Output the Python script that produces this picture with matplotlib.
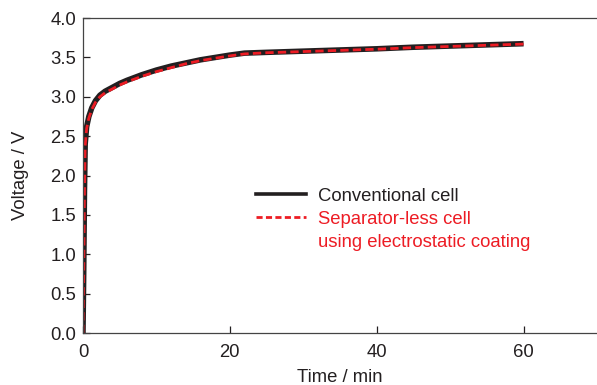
import matplotlib
matplotlib.use("Agg")
import matplotlib.pyplot as plt
from matplotlib.lines import Line2D

plt.rcParams['font.family'] = ['Liberation Sans', 'DejaVu Sans']

# === DATA ===
time_min = [0, 0.1, 0.2, 0.3, 0.5, 0.8, 1.2, 1.7, 2.3, 3, 4, 5, 6, 8, 10, 12, 14, 16,
            18, 20, 22, 25, 30, 35, 40, 45, 50, 55, 60]
conventional_v = [0, 0.8, 1.8, 2.4, 2.62, 2.75, 2.86, 2.95, 3.02, 3.07, 3.12, 3.17, 3.21,
                  3.28, 3.34, 3.39, 3.43, 3.47, 3.50, 3.53, 3.555, 3.565, 3.58, 3.595,
                  3.61, 3.63, 3.645, 3.66, 3.675]
separatorless_v = [0, 0.78, 1.78, 2.38, 2.60, 2.73, 2.84, 2.93, 3.00, 3.05, 3.10, 3.15, 3.19,
                   3.26, 3.32, 3.37, 3.42, 3.46, 3.49, 3.52, 3.545, 3.56, 3.575, 3.59,
                   3.605, 3.625, 3.64, 3.655, 3.67]

x_ticks = [0, 20, 40, 60]
y_ticks = [0.0, 0.5, 1.0, 1.5, 2.0, 2.5, 3.0, 3.5, 4.0]

RED = "#ed1c24"
DARK = "#231f20"
FS = 13.3

fig = plt.figure(figsize=(5.97, 3.85), dpi=100)
ax = fig.add_axes([0.139, 0.135, 0.861, 0.818])

ax.plot(time_min, conventional_v, color=DARK, lw=4.0, solid_capstyle="butt")
ax.plot(time_min, separatorless_v, color=RED, lw=2.0, dashes=(3.0, 1.5))

ax.set_xlim(0, 70)
ax.set_ylim(0, 4.0)
ax.set_xticks(x_ticks)
ax.set_yticks(y_ticks)
ax.set_yticklabels([f"{v:.1f}" for v in y_ticks])
ax.tick_params(direction="in", length=5, width=0.9, colors=DARK, labelsize=FS, pad=5)
ax.tick_params(axis="x", pad=8)
for name in ["left", "bottom", "top"]:
    ax.spines[name].set_color("#444444")
    ax.spines[name].set_linewidth(0.9)
ax.spines["right"].set_visible(False)

ax.set_xlabel("Time / min", fontsize=FS, color=DARK, labelpad=5.5)
ax.set_ylabel("Voltage / V", fontsize=FS, color=DARK, labelpad=15)

handles = [Line2D([], [], color=DARK, lw=2.6),
           Line2D([], [], color=RED, lw=2.0, dashes=(2.2, 1.2)),
           Line2D([], [], color="none")]
labels = ["Conventional cell", "Separator-less cell", "using electrostatic coating"]
leg = ax.legend(handles, labels, loc="upper left", bbox_to_anchor=(0.318, 0.49),
                frameon=False, fontsize=FS, handlelength=2.75, handletextpad=0.6,
                labelspacing=0.32, borderpad=0)
for txt, col in zip(leg.get_texts(), [DARK, RED, RED]):
    txt.set_color(col)

plt.savefig("out.png", dpi=100)
